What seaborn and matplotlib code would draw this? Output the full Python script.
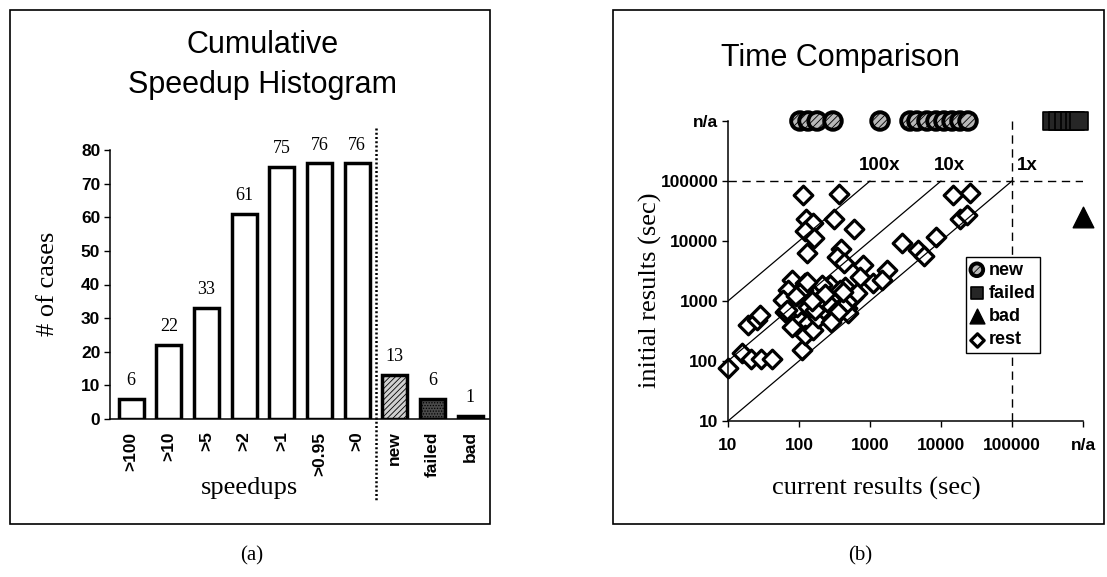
import matplotlib
matplotlib.use("Agg")
import matplotlib.pyplot as plt
import seaborn as sns
import pandas as pd
from matplotlib.patches import Rectangle
from matplotlib.lines import Line2D

# ---- cumulative speedup histogram ----
speedup_bins = [">100", ">10", ">5", ">2", ">1", ">0.95", ">0", "new", "failed", "bad"]
case_counts = [6, 22, 33, 61, 75, 76, 76, 13, 6, 1]

# ---- time comparison (seconds); "n/a" is drawn on the top decade ----
NA = 1e6
rest_current = [114, 366, 126, 158, 310, 590, 122, 163, 130, 390, 340, 430, 800, 720,
                1100, 1740, 1480, 2800, 4700, 5700, 8500, 14800, 25700, 18600, 23500,
                445, 575, 475, 490, 10, 16, 21, 29, 41, 19, 26, 28, 110, 80, 122, 70,
                60, 97, 114, 63, 82, 130, 103, 80, 133, 122, 157, 185, 248, 272, 320,
                380, 248, 300, 380, 470, 560, 650, 210, 94, 133, 68, 130, 200, 230,
                170, 350, 90, 420, 150, 280]
rest_initial = [58000, 60000, 23000, 20000, 23000, 16000, 14700, 11200, 6300, 7400, 5400,
                4300, 4000, 2500, 2000, 3300, 2240, 9300, 7000, 5600, 11700, 58000, 62000,
                23000, 27000, 1700, 1170, 760, 630, 76, 135, 108, 108, 110, 400, 480, 580,
                155, 2240, 2000, 1520, 1040, 960, 1520, 660, 710, 850, 480, 370, 430, 270,
                330, 520, 630, 1850, 1170, 1520, 960, 520, 760, 920, 1170, 1360, 1850, 790,
                790, 720, 2080, 1100, 1300, 700, 650, 1200, 1400, 1000, 450]
new_current = [103, 134, 180, 301, 1384, 3656, 4590, 6350, 8510, 11000, 14300, 18500, 24000]
failed_current = [370000, 450000, 540000, 660000, 770000, 880000]
bad_initial = [25000]
speedup_lines = [100, 10, 1]
axis_decades = [10, 100, 1000, 10000, 100000, NA]
axis_labels = ["10", "100", "1000", "10000", "100000", "n/a"]

sns.set_theme(style="ticks")
plt.rcParams["font.family"] = ["Liberation Sans", "DejaVu Sans"]
plt.rcParams["hatch.linewidth"] = 0.6
for key in ["text.color", "axes.labelcolor", "xtick.color", "ytick.color", "axes.edgecolor"]:
    plt.rcParams[key] = "black"
SERIF = ["Liberation Serif", "DejaVu Serif"]

W, H = 1107, 577
fig = plt.figure(figsize=(W / 100, H / 100), dpi=100)


def fx(px):
    return px / W


def fy(py):
    return 1 - py / H


# panel frames
for x0, x1 in [(10, 490), (613, 1104)]:
    fig.add_artist(Rectangle((fx(x0), fy(524)), fx(x1) - fx(x0), fy(10) - fy(524),
                             transform=fig.transFigure, fill=False, lw=1.2, ec="black"))

# ================= (a) histogram =================
ax1 = fig.add_axes([fx(110), fy(419), fx(489) - fx(110), fy(150) - fy(419)])
hist_df = pd.DataFrame({"bin": speedup_bins, "cases": case_counts})
sns.barplot(data=hist_df, x="bin", y="cases", order=speedup_bins, color="white",
            edgecolor="black", linewidth=2.5, width=0.66, saturation=1, ax=ax1)

fills = {"new": ("#d0d0d0", "//////"), "failed": ("#4a4a4a", "......"), "bad": ("black", None)}
for patch, name in zip(ax1.patches, speedup_bins):
    patch.set_facecolor("white")
    if name in fills:
        fc, hatch = fills[name]
        patch.set_facecolor(fc)
        if hatch:
            patch.set_hatch(hatch)
    patch.set_edgecolor("black")

for i, v in enumerate(case_counts):
    ax1.annotate(str(v), (i, v), xytext=(0, 10), textcoords="offset points",
                 ha="center", va="baseline", fontsize=13, family=SERIF)

ax1.set_xlim(-0.56, 9.5)
ax1.set_ylim(0, 80)
ax1.set_yticks(range(0, 81, 10))
ax1.set_xlabel("")
ax1.set_ylabel("")
ax1.tick_params(axis="y", length=4, width=1, pad=3, labelsize=12.5)
ax1.tick_params(axis="x", length=0, pad=9, labelsize=12.5, labelrotation=90)
for lab in ax1.get_yticklabels() + ax1.get_xticklabels():
    lab.set_fontweight("bold")
for lab in ax1.get_xticklabels():
    lab.set_va("top")
sns.despine(ax=ax1)
ax1.spines["left"].set_linewidth(1.1)
ax1.spines["bottom"].set_linewidth(1.1)

fig.add_artist(Line2D([fx(376), fx(376)], [fy(128), fy(502)], transform=fig.transFigure,
                      color="black", lw=1.8, linestyle=(0, (0.8, 0.9))))

fig.text(fx(263), fy(65), "Cumulative\nSpeedup Histogram", ha="center", va="center",
         fontsize=22, linespacing=1.45)
fig.text(fx(48), fy(284), "# of cases", rotation=90, ha="center", va="center",
         fontsize=19, family=SERIF)
fig.text(fx(250), fy(488), "speedups", ha="center", va="center", fontsize=19, family=SERIF)
fig.text(fx(252), fy(556), "(a)", ha="center", va="center", fontsize=15, family=SERIF)

# ================= (b) time comparison =================
ax2 = fig.add_axes([fx(728), fy(421), fx(1083) - fx(728), fy(121) - fy(421)])
ax2.set_xscale("log")
ax2.set_yscale("log")

# speedup reference lines and the n/a boundaries
for r in speedup_lines:
    ax2.plot([10, 1e5 / r], [10 * r, 1e5], color="black", lw=0.9)
ax2.axhline(1e5, color="black", lw=1.0, ls=(0, (6, 4)))
ax2.axvline(1e5, color="black", lw=1.0, ls=(0, (6, 4)))
line_offsets = {100: (7, 11), 10: (6, 11), 1: (11, 11)}
for r in speedup_lines:
    ax2.annotate(f"{r}x", (1e5 / r, 1e5), xytext=line_offsets[r], textcoords="offset points",
                 ha="center", va="center", fontsize=13.5, fontweight="bold")

rest_df = pd.DataFrame({"current": rest_current, "initial": rest_initial})
new_df = pd.DataFrame({"current": new_current, "initial": [NA] * len(new_current)})
failed_df = pd.DataFrame({"current": failed_current, "initial": [NA] * len(failed_current)})
bad_df = pd.DataFrame({"current": [NA] * len(bad_initial), "initial": bad_initial})

sns.scatterplot(data=failed_df, x="current", y="initial", marker="s", s=160,
                color="#262626", edgecolor="black", linewidth=1.2, ax=ax2, clip_on=False)
sc_failed = ax2.collections[-1]
sns.scatterplot(data=new_df, x="current", y="initial", marker="o", s=160,
                color="#b8b8b8", edgecolor="black", linewidth=2.8, hatch="/////",
                ax=ax2, clip_on=False)
sc_new = ax2.collections[-1]
sns.scatterplot(data=bad_df, x="current", y="initial", marker="^", s=220,
                color="black", edgecolor="black", linewidth=1, ax=ax2, clip_on=False)
sc_bad = ax2.collections[-1]
sns.scatterplot(data=rest_df, x="current", y="initial", marker="D", s=90,
                color="white", edgecolor="black", linewidth=2.3, ax=ax2, clip_on=False)
sc_rest = ax2.collections[-1]

ax2.set_xlim(10, NA)
ax2.set_ylim(10, NA)
ax2.set_xticks(axis_decades)
ax2.set_xticklabels(axis_labels)
ax2.set_yticks(axis_decades)
ax2.set_yticklabels(axis_labels)
ax2.minorticks_off()
ax2.set_xlabel("")
ax2.set_ylabel("")
ax2.tick_params(axis="y", length=4, width=1, pad=3, labelsize=12.5)
ax2.tick_params(axis="x", length=4, width=1, pad=8, labelsize=12.5)
for lab in ax2.get_yticklabels() + ax2.get_xticklabels():
    lab.set_fontweight("bold")
sns.despine(ax=ax2)
ax2.spines["left"].set_linewidth(1.1)
ax2.spines["bottom"].set_linewidth(1.1)

leg = ax2.legend(handles=[sc_new, sc_failed, sc_bad, sc_rest],
                 labels=["new", "failed", "bad", "rest"],
                 loc="upper left", bbox_to_anchor=(fx(966), fy(257)),
                 bbox_transform=fig.transFigure, borderaxespad=0, frameon=True,
                 fancybox=False, framealpha=1, edgecolor="black",
                 prop={"size": 13, "weight": "bold"}, markerscale=0.72,
                 handlelength=0.7, handletextpad=0.3, borderpad=0.25, labelspacing=0.35)
leg.get_frame().set_linewidth(1.0)

fig.text(fx(840), fy(58), "Time Comparison", ha="center", va="center", fontsize=22)
fig.text(fx(650), fy(290), "initial results (sec)", rotation=90, ha="center", va="center",
         fontsize=19, family=SERIF)
fig.text(fx(876), fy(488), "current results (sec)", ha="center", va="center",
         fontsize=19, family=SERIF)
fig.text(fx(860), fy(556), "(b)", ha="center", va="center", fontsize=15, family=SERIF)

fig.savefig("out.png", dpi=100)
